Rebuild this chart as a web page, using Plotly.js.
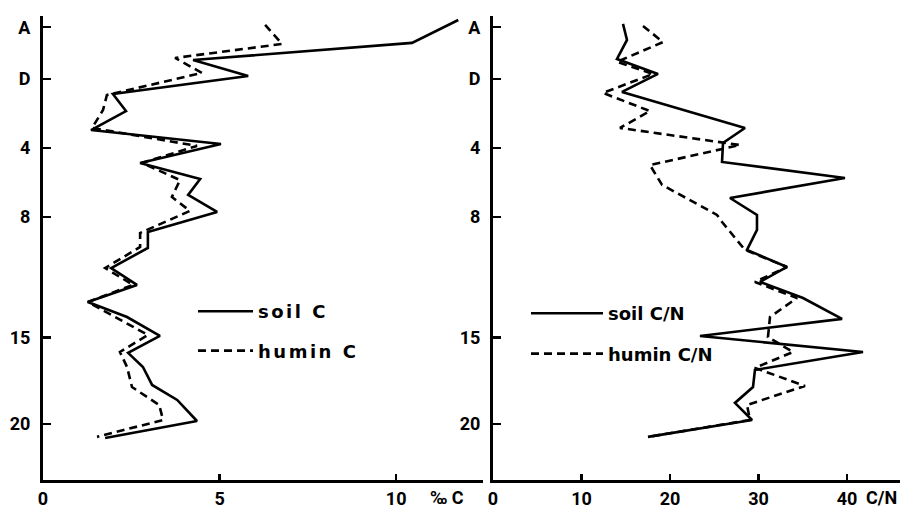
<!DOCTYPE html>
<html>
<head>
<meta charset="utf-8">
<script src="https://cdn.plot.ly/plotly-3.0.1.min.js"></script>
<style>
html,body{margin:0;padding:0;background:#fff;}
#chart{width:906px;height:511px;}
.legendtext{letter-spacing:2.5px;}
</style>
</head>
<body>
<div id="chart"></div>
<script>
// Depth (A = -3, D = 0, then cm) and values
const depthTickVals = [-3, 0, 4, 8, 15, 20];
const depthTickText = ['A', 'D', '4', '8', '15', '20'];

const soilCDepth = [-3.42, -2.09, -1.10, -0.17, 0.87, 1.86, 2.96, 3.77, 4.87, 5.80, 6.72, 7.71, 8.87, 9.80, 10.96, 11.94, 12.93, 13.80, 14.90, 15.88, 16.70, 17.74, 18.61, 19.83, 20.81];
const soilC      = [11.76, 10.45, 4.25, 5.81, 1.98, 2.35, 1.36, 5.04, 2.75, 4.45, 4.11, 4.93, 2.97, 2.97, 1.93, 2.66, 1.27, 2.38, 3.31, 2.41, 2.83, 3.09, 3.80, 4.36, 1.76];

const huminCDepth = [-3.13, -2.03, -1.22, -0.35, 0.93, 1.80, 2.84, 3.88, 4.87, 5.86, 6.84, 7.65, 8.93, 9.74, 10.96, 11.94, 12.93, 14.84, 15.83, 16.70, 17.86, 18.90, 19.77, 20.75];
const huminC      = [6.29, 6.77, 3.74, 4.50, 1.81, 1.70, 1.39, 4.36, 2.80, 3.88, 3.65, 4.16, 2.75, 2.75, 1.76, 2.55, 1.27, 2.97, 2.18, 2.38, 2.52, 3.29, 3.40, 1.53];

const soilCNDepth = [-3.19, -2.26, -1.16, -0.29, 0.75, 2.84, 3.71, 4.81, 5.74, 6.90, 7.88, 8.75, 9.91, 10.90, 11.77, 12.70, 13.91, 14.90, 15.83, 16.87, 17.86, 18.78, 19.77, 20.75];
const soilCN      = [14.69, 15.14, 14.01, 18.64, 14.58, 28.47, 25.99, 25.88, 39.77, 26.78, 29.83, 29.83, 28.70, 33.22, 30.17, 35.03, 39.44, 23.39, 41.81, 29.60, 29.38, 27.34, 29.27, 17.51];

const huminCNDepth = [-3.07, -2.14, -0.99, -0.29, 0.81, 1.86, 2.84, 3.83, 4.99, 6.14, 7.88, 8.29, 9.91, 10.90, 11.77, 12.70, 13.80, 14.96, 15.83, 16.75, 17.80, 18.90, 19.77, 20.75];
const huminCN      = [16.95, 19.21, 14.01, 18.08, 12.43, 17.74, 14.35, 27.91, 17.74, 19.10, 25.31, 25.88, 28.47, 33.22, 29.60, 34.35, 31.30, 31.07, 33.90, 29.60, 35.25, 28.70, 29.04, 17.51];

const leftTicks = [0, 5, 10];
const rightTicks = [0, 10, 20, 30, 40];

const FONT = {family: 'Roboto, "Liberation Sans", sans-serif', size: 18, color: '#000', weight: 'bold'};
const LFONT = {family: '"DejaVu Sans", sans-serif', size: 18, color: '#000', weight: 'bold'};
const LW = 2.6;

const traces = [
  {x: soilC, y: soilCDepth, xaxis: 'x', yaxis: 'y', mode: 'lines', name: 'soil C',
   line: {color: '#000', width: LW}, legend: 'legend', legendgroup: 'a'},
  {x: huminC, y: huminCDepth, xaxis: 'x', yaxis: 'y', mode: 'lines', name: 'humin C',
   line: {color: '#000', width: LW, dash: '8px,5px'}, legend: 'legend', legendgroup: 'b'},
  {x: soilCN, y: soilCNDepth, xaxis: 'x2', yaxis: 'y2', mode: 'lines', name: 'soil C/N',
   line: {color: '#000', width: LW}, legend: 'legend2', legendgroup: 'c'},
  {x: huminCN, y: huminCNDepth, xaxis: 'x2', yaxis: 'y2', mode: 'lines', name: 'humin C/N',
   line: {color: '#000', width: LW, dash: '8px,5px'}, legend: 'legend2', legendgroup: 'd'}
];

const W = 906, H = 511;
const yTop = 1 - 16 / H, yBot = 1 - 480 / H;

const axisCommon = {
  showgrid: false, zeroline: false, showline: true, linecolor: '#000', linewidth: 3,
  ticks: 'inside', ticklen: 8, tickwidth: 2.5, tickcolor: '#000',
  tickfont: FONT, fixedrange: true
};

const yAxisCommon = Object.assign({}, axisCommon, {
  range: [23.25, -3.65], tickmode: 'array', tickvals: depthTickVals, ticktext: depthTickText,
  domain: [yBot, yTop], ticklabelstandoff: 6
});

const layout = {
  width: W, height: H,
  margin: {l: 0, r: 0, t: 0, b: 0},
  paper_bgcolor: '#fff', plot_bgcolor: '#fff',
  font: FONT,
  showlegend: true,
  xaxis: Object.assign({}, axisCommon, {
    domain: [43 / W, 483 / W], range: [0, 12.46], tickmode: 'array', tickvals: leftTicks,
    anchor: 'y', ticklabelstandoff: 0, ticklen: 6
  }),
  yaxis: Object.assign({}, yAxisCommon, {anchor: 'x'}),
  xaxis2: Object.assign({}, axisCommon, {
    domain: [493 / W, 900 / W], range: [0, 45.99], tickmode: 'array', tickvals: rightTicks,
    anchor: 'y2', ticklabelstandoff: 0, ticklen: 6
  }),
  yaxis2: Object.assign({}, yAxisCommon, {anchor: 'x2'}),
  legend: {
    x: 193 / W, y: 1 - 293 / H, xanchor: 'left', yanchor: 'top', itemwidth: 55,
    bgcolor: 'rgba(0,0,0,0)', font: LFONT, traceorder: 'grouped', tracegroupgap: 13
  },
  legend2: {
    x: 526 / W, y: 1 - 295 / H, xanchor: 'left', yanchor: 'top', itemwidth: 72,
    bgcolor: 'rgba(0,0,0,0)', font: LFONT, traceorder: 'grouped', tracegroupgap: 14
  },
  annotations: [
    {text: '‰ C', xref: 'paper', yref: 'paper', x: 447 / W, y: 1 - 497 / H,
     xanchor: 'center', yanchor: 'middle', showarrow: false, font: FONT},
    {text: 'C/N', xref: 'paper', yref: 'paper', x: 881 / W, y: 1 - 497 / H,
     xanchor: 'center', yanchor: 'middle', showarrow: false, font: FONT}
  ]
};

Plotly.newPlot('chart', traces, layout, {displayModeBar: false, staticPlot: true});
</script>
</body>
</html>
